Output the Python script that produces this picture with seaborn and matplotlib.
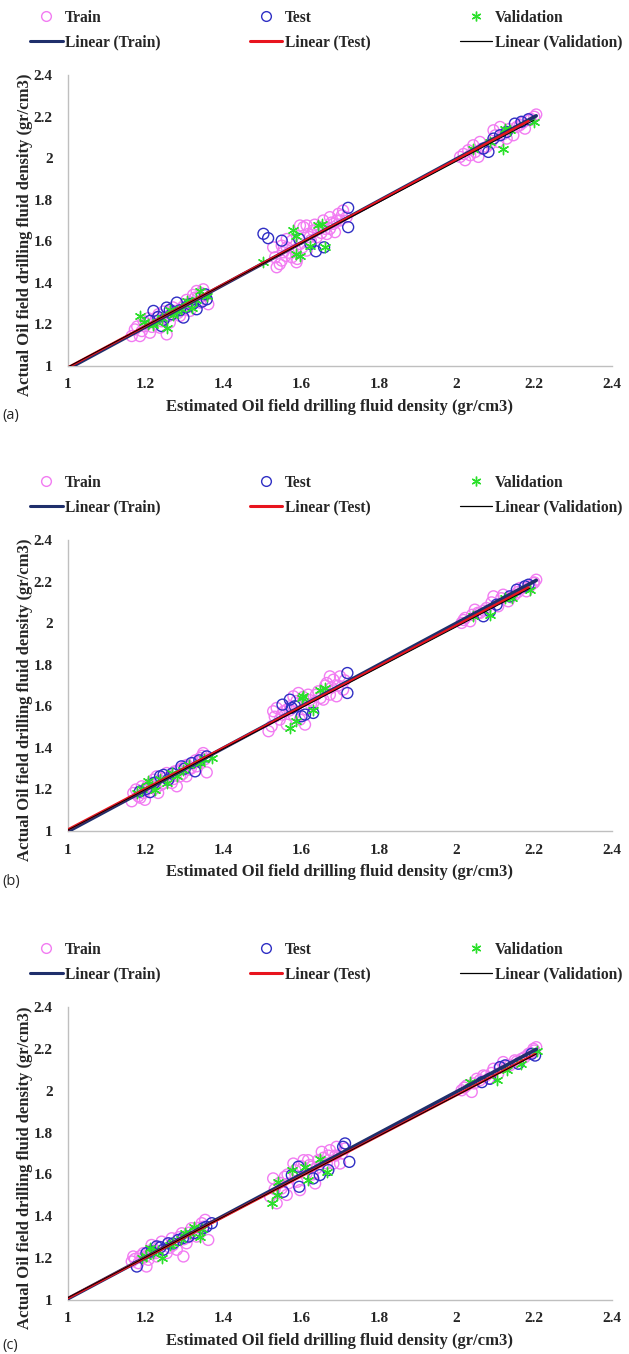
import numpy as np
import pandas as pd
import matplotlib
matplotlib.use("Agg")
import matplotlib.pyplot as plt
from matplotlib.lines import Line2D
import seaborn as sns

# ---------------- data ----------------
# Panel (a)
a_train_x = [1.164, 1.172, 1.185, 1.198, 1.211, 1.224, 1.237, 1.250, 1.262, 1.275, 1.288, 1.301,
             1.314, 1.327, 1.340, 1.348, 1.361, 1.194, 1.233, 1.293, 1.254, 1.331,
             1.178, 1.190, 1.203, 1.216, 1.228, 1.241, 1.246, 1.258, 1.270, 1.283, 1.296, 1.305,
             1.318, 1.322, 1.335, 1.344, 1.352, 1.206, 1.268, 1.310,
             1.528, 1.533, 1.537, 1.550, 1.554, 1.563, 1.576, 1.588, 1.597, 1.606, 1.614, 1.618,
             1.631, 1.640, 1.648, 1.657, 1.666, 1.674, 1.683, 1.687, 1.696, 1.700, 1.708, 1.717,
             1.597, 1.576, 1.550, 1.614, 1.563, 1.674,
             1.545, 1.568, 1.585, 1.603, 1.622, 1.635, 1.652, 1.662, 1.678, 1.692, 1.705, 1.625,
             1.590, 1.560,
             2.009, 2.022, 2.030, 2.043, 2.056, 2.060, 2.095, 2.107, 2.112, 2.146, 2.163, 2.176,
             2.189, 2.205, 2.200, 2.077, 2.035, 2.129,
             2.018, 2.048, 2.065, 2.088, 2.100, 2.120, 2.135, 2.155, 2.170, 2.190]
a_train_y = [1.144, 1.176, 1.144, 1.192, 1.160, 1.217, 1.184, 1.233, 1.209, 1.265, 1.241, 1.297,
             1.265, 1.329, 1.305, 1.369, 1.297, 1.217, 1.249, 1.281, 1.152, 1.361,
             1.190, 1.168, 1.205, 1.188, 1.232, 1.215, 1.262, 1.240, 1.282, 1.255, 1.270, 1.318,
             1.300, 1.342, 1.330, 1.350, 1.338, 1.230, 1.262, 1.284,
             1.571, 1.523, 1.475, 1.507, 1.547, 1.571, 1.523, 1.499, 1.587, 1.668, 1.676, 1.635,
             1.652, 1.619, 1.668, 1.700, 1.635, 1.716, 1.684, 1.644, 1.732, 1.700, 1.748, 1.716,
             1.676, 1.603, 1.579, 1.555, 1.611, 1.660,
             1.490, 1.545, 1.560, 1.570, 1.620, 1.680, 1.640, 1.660, 1.690, 1.700, 1.725, 1.605,
             1.515, 1.530,
             2.006, 1.990, 2.038, 2.062, 2.006, 2.078, 2.134, 2.078, 2.150, 2.110, 2.159, 2.142,
             2.183, 2.210, 2.199, 2.054, 2.014, 2.094,
             2.020, 2.030, 2.045, 2.070, 2.110, 2.115, 2.140, 2.150, 2.170, 2.190]
a_test_x = [1.220, 1.241, 1.254, 1.280, 1.297, 1.314, 1.331, 1.357, 1.353, 1.211, 1.267,
            1.232, 1.262, 1.288, 1.322, 1.345, 1.246, 1.305,
            1.503, 1.515, 1.550, 1.595, 1.624, 1.638, 1.659, 1.721, 1.721,
            2.069, 2.082, 2.095, 2.129, 2.150, 2.167, 2.185, 2.112]
a_test_y = [1.265, 1.192, 1.281, 1.305, 1.233, 1.297, 1.273, 1.321, 1.345, 1.217, 1.249,
            1.236, 1.270, 1.268, 1.300, 1.310, 1.222, 1.284,
            1.636, 1.615, 1.603, 1.611, 1.587, 1.552, 1.571, 1.761, 1.668,
            2.046, 2.030, 2.094, 2.126, 2.166, 2.175, 2.187, 2.110]
a_val_x = [1.185, 1.207, 1.254, 1.280, 1.305, 1.340, 1.357, 1.241, 1.318,
           1.196, 1.228, 1.270, 1.292, 1.330, 1.218, 1.262,
           1.503, 1.580, 1.588, 1.597, 1.623, 1.644, 1.653, 1.661, 1.588,
           2.120, 2.125, 2.137, 2.198, 2.043, 2.086]
a_val_y = [1.241, 1.200, 1.184, 1.265, 1.313, 1.361, 1.337, 1.233, 1.281,
           1.214, 1.214, 1.244, 1.276, 1.318, 1.196, 1.270,
           1.499, 1.652, 1.539, 1.531, 1.579, 1.676, 1.684, 1.571, 1.627,
           2.046, 2.142, 2.134, 2.175, 2.046, 2.078]

# Panel (b)
b_train_x = [1.164, 1.168, 1.181, 1.190, 1.198, 1.211, 1.220, 1.232, 1.245, 1.254, 1.267, 1.275,
             1.288, 1.301, 1.310, 1.323, 1.331, 1.340, 1.348, 1.357, 1.280, 1.228, 1.194, 1.305,
             1.175, 1.186, 1.200, 1.214, 1.226, 1.238, 1.250, 1.262, 1.272, 1.284, 1.295, 1.306,
             1.316, 1.328, 1.338, 1.345, 1.352, 1.240, 1.292, 1.204,
             1.516, 1.524, 1.528, 1.537, 1.545, 1.550, 1.563, 1.580, 1.593, 1.597, 1.610, 1.618,
             1.631, 1.644, 1.657, 1.666, 1.674, 1.683, 1.691, 1.700, 1.708, 1.563, 1.614, 1.674, 1.580,
             1.532, 1.555, 1.572, 1.588, 1.605, 1.622, 1.638, 1.650, 1.662, 1.678, 1.695, 1.712,
             1.570, 1.625,
             2.013, 2.022, 2.035, 2.047, 2.060, 2.077, 2.095, 2.107, 2.120, 2.133, 2.150, 2.163,
             2.180, 2.198, 2.205, 2.200,
             2.018, 2.040, 2.055, 2.070, 2.090, 2.115, 2.140, 2.158, 2.172, 2.190]
b_train_y = [1.143, 1.183, 1.167, 1.215, 1.150, 1.215, 1.247, 1.183, 1.231, 1.279, 1.231, 1.287,
             1.263, 1.311, 1.295, 1.327, 1.311, 1.351, 1.375, 1.282, 1.215, 1.263, 1.183, 1.263,
             1.200, 1.160, 1.196, 1.230, 1.205, 1.240, 1.255, 1.262, 1.250, 1.290, 1.275, 1.318,
             1.300, 1.340, 1.332, 1.362, 1.345, 1.222, 1.300, 1.215,
             1.480, 1.504, 1.576, 1.592, 1.536, 1.560, 1.512, 1.648, 1.664, 1.536, 1.512, 1.656,
             1.616, 1.672, 1.632, 1.712, 1.656, 1.728, 1.648, 1.744, 1.680, 1.584, 1.584, 1.744, 1.560,
             1.550, 1.575, 1.600, 1.625, 1.645, 1.630, 1.655, 1.640, 1.700, 1.690, 1.700, 1.725,
             1.580, 1.610,
             2.001, 2.025, 2.009, 2.065, 2.049, 2.073, 2.129, 2.081, 2.137, 2.105, 2.137, 2.169,
             2.153, 2.193, 2.209, 2.196,
             2.015, 2.040, 2.050, 2.060, 2.100, 2.120, 2.125, 2.150, 2.170, 2.180]
b_test_x = [1.237, 1.211, 1.292, 1.318, 1.327, 1.357, 1.258, 1.202,
            1.222, 1.246, 1.268, 1.300, 1.338, 1.185,
            1.552, 1.571, 1.576, 1.584, 1.601, 1.610, 1.631, 1.719, 1.719,
            2.069, 2.086, 2.103, 2.137, 2.155, 2.176, 2.185]
b_test_y = [1.263, 1.187, 1.311, 1.327, 1.287, 1.359, 1.247, 1.203,
            1.232, 1.270, 1.276, 1.300, 1.340, 1.190,
            1.608, 1.632, 1.592, 1.600, 1.552, 1.560, 1.568, 1.760, 1.664,
            2.033, 2.057, 2.089, 2.129, 2.161, 2.177, 2.185]
b_val_x = [1.177, 1.207, 1.224, 1.280, 1.297, 1.370, 1.340, 1.254,
           1.190, 1.236, 1.268, 1.312, 1.350, 1.215,
           1.571, 1.588, 1.601, 1.606, 1.631, 1.648, 1.661,
           2.043, 2.086, 2.125, 2.142, 2.189]
b_val_y = [1.183, 1.239, 1.199, 1.263, 1.295, 1.351, 1.327, 1.231,
           1.200, 1.250, 1.280, 1.316, 1.345, 1.215,
           1.496, 1.528, 1.640, 1.648, 1.584, 1.680, 1.688,
           2.033, 2.041, 2.121, 2.121, 2.161]

# Panel (c)
c_train_x = [1.164, 1.168, 1.181, 1.194, 1.207, 1.215, 1.228, 1.241, 1.254, 1.267, 1.280, 1.293,
             1.305, 1.318, 1.331, 1.344, 1.353, 1.361, 1.297, 1.202,
             1.172, 1.186, 1.198, 1.210, 1.222, 1.234, 1.246, 1.258, 1.270, 1.285, 1.298, 1.312,
             1.324, 1.336, 1.348, 1.226, 1.262, 1.310, 1.190, 1.340,
             1.520, 1.528, 1.537, 1.550, 1.558, 1.567, 1.580, 1.597, 1.606, 1.614, 1.627, 1.636,
             1.644, 1.653, 1.666, 1.674, 1.683, 1.691, 1.700, 1.713, 1.563, 1.618,
             1.532, 1.545, 1.565, 1.585, 1.600, 1.622, 1.640, 1.658, 1.670, 1.688, 1.705, 1.590, 1.630,
             2.013, 2.026, 2.039, 2.052, 2.069, 2.082, 2.095, 2.107, 2.120, 2.137, 2.150, 2.167,
             2.185, 2.198, 2.205, 2.200,
             2.020, 2.045, 2.060, 2.075, 2.090, 2.110, 2.130, 2.155, 2.175, 2.190]
c_train_y = [1.184, 1.208, 1.176, 1.224, 1.192, 1.263, 1.208, 1.279, 1.224, 1.295, 1.240, 1.319,
             1.271, 1.343, 1.303, 1.367, 1.383, 1.287, 1.208, 1.160,
             1.196, 1.210, 1.205, 1.236, 1.230, 1.255, 1.240, 1.270, 1.262, 1.300, 1.290, 1.322,
             1.318, 1.345, 1.350, 1.224, 1.250, 1.300, 1.200, 1.330,
             1.494, 1.581, 1.462, 1.533, 1.589, 1.557, 1.652, 1.525, 1.668, 1.605, 1.637, 1.557,
             1.668, 1.708, 1.652, 1.716, 1.652, 1.732, 1.652, 1.724, 1.502, 1.668,
             1.530, 1.560, 1.600, 1.620, 1.640, 1.645, 1.630, 1.680, 1.690, 1.690, 1.700, 1.565, 1.600,
             2.002, 2.025, 1.994, 2.057, 2.073, 2.057, 2.105, 2.081, 2.137, 2.121, 2.145, 2.152,
             2.176, 2.200, 2.208, 2.192,
             2.015, 2.035, 2.050, 2.070, 2.085, 2.110, 2.120, 2.140, 2.160, 2.180]
c_test_x = [1.177, 1.202, 1.228, 1.245, 1.284, 1.310, 1.348, 1.370, 1.258,
            1.215, 1.238, 1.270, 1.296, 1.325, 1.356,
            1.554, 1.576, 1.593, 1.595, 1.631, 1.648, 1.670, 1.713, 1.708, 1.724,
            2.065, 2.086, 2.112, 2.125, 2.159, 2.193, 2.202]
c_test_y = [1.160, 1.224, 1.256, 1.240, 1.287, 1.303, 1.343, 1.367, 1.271,
            1.232, 1.252, 1.270, 1.296, 1.320, 1.350,
            1.517, 1.597, 1.637, 1.541, 1.581, 1.597, 1.621, 1.748, 1.732, 1.660,
            2.041, 2.057, 2.113, 2.121, 2.129, 2.176, 2.168]
c_val_x = [1.190, 1.220, 1.241, 1.271, 1.301, 1.323, 1.340, 1.211,
           1.200, 1.232, 1.262, 1.290, 1.315, 1.345,
           1.524, 1.537, 1.541, 1.576, 1.610, 1.618, 1.648, 1.666,
           2.035, 2.103, 2.129, 2.167, 2.206]
c_val_y = [1.200, 1.224, 1.200, 1.271, 1.319, 1.351, 1.303, 1.248,
           1.212, 1.236, 1.262, 1.290, 1.318, 1.340,
           1.462, 1.502, 1.565, 1.621, 1.637, 1.573, 1.676, 1.613,
           2.041, 2.049, 2.097, 2.129, 2.192]

ticks = [1, 1.2, 1.4, 1.6, 1.8, 2, 2.2, 2.4]
tick_labels = ["1", "1.2", "1.4", "1.6", "1.8", "2", "2.2", "2.4"]
panel_tags = ["(a)", "(b)", "(c)"]
x_title = "Estimated Oil field drilling fluid density (gr/cm3)"
y_title = "Actual Oil field drilling fluid density (gr/cm3)"
series_names = ["Train", "Test", "Validation"]
line_names = ["Linear (Train)", "Linear (Test)", "Linear (Validation)"]

panels = [
    (a_train_x, a_train_y, a_test_x, a_test_y, a_val_x, a_val_y),
    (b_train_x, b_train_y, b_test_x, b_test_y, b_val_x, b_val_y),
    (c_train_x, c_train_y, c_test_x, c_test_y, c_val_x, c_val_y),
]

# ---------------- style ----------------
sns.set_theme(style="white")
plt.rcParams["font.family"] = ["Liberation Serif", "DejaVu Serif"]
plt.rcParams["font.weight"] = "bold"

PINK = "#F27CF2"
BLUE = "#2F2FC4"
GREEN = "#2BE02B"
NAVY = "#1F2F6B"
RED = "#E8141E"
BLACK = "#000000"
SPINE = "#BFBFBF"
TICK_FS = 11
LAB_FS = 12
LEG_FS = 11.2
STAR = (6, 2, 0)

W, H = 629, 1354
fig = plt.figure(figsize=(W / 100, H / 100), dpi=100)

# axes pixel layouts: (top, bottom) of y-range and legend top
layouts = [(75, 366, 11), (540, 831, 476), (1007, 1300, 943)]
left_px, right_px = 68, 612

for i, (pan, (top, bot, legtop)) in enumerate(zip(panels, layouts)):
    trx, tr_y, tex, tey, vx, vy = pan
    ax = fig.add_axes([left_px / W, 1 - bot / H, (right_px - left_px) / W, (bot - top) / H])

    # fitted trend lines from each set
    for xs, ys, col, lw in [(trx, tr_y, NAVY, 2.6), (tex, tey, RED, 1.8), (vx, vy, BLACK, 0.7)]:
        k, b = np.polyfit(xs, ys, 1)
        xx = np.array([1.0, max(xs)])
        df_line = pd.DataFrame({"x": xx, "y": k * xx + b})
        sns.lineplot(data=df_line, x="x", y="y", color=col, lw=lw, ax=ax, zorder=5)

    df_tr = pd.DataFrame({"x": trx, "y": tr_y})
    df_te = pd.DataFrame({"x": tex, "y": tey})
    df_v = pd.DataFrame({"x": vx, "y": vy})
    sns.scatterplot(data=df_tr, x="x", y="y", marker="o", s=62, color=PINK,
                    facecolor="none", edgecolor=PINK, linewidth=1.0, ax=ax, zorder=2)
    sns.scatterplot(data=df_te, x="x", y="y", marker="o", s=62, color=BLUE,
                    facecolor="none", edgecolor=BLUE, linewidth=1.0, ax=ax, zorder=3)
    sns.scatterplot(data=df_v, x="x", y="y", marker=STAR, s=55, color=GREEN,
                    edgecolor=GREEN, linewidth=1.0, ax=ax, zorder=4)

    ax.set_xlim(1, 2.4)
    ax.set_ylim(1, 2.4)
    ax.set_xticks(ticks)
    ax.set_yticks(ticks)
    ax.set_xticklabels(tick_labels, fontsize=TICK_FS, fontweight="bold")
    ax.set_yticklabels(tick_labels, fontsize=TICK_FS, fontweight="bold")
    ax.tick_params(axis="both", length=0)
    ax.tick_params(axis="x", pad=9)
    ax.tick_params(axis="y", pad=11)
    for s in ["top", "right"]:
        ax.spines[s].set_visible(False)
    for s in ["left", "bottom"]:
        ax.spines[s].set_color(SPINE)
        ax.spines[s].set_linewidth(1.0)
    ax.grid(False)
    ax.set_xlabel(x_title, fontsize=LAB_FS, fontweight="bold")
    ax.set_ylabel(y_title, fontsize=LAB_FS, fontweight="bold")
    ax.xaxis.set_label_coords(0.5, -(33 / (bot - top)))
    ax.yaxis.set_label_coords(-(35 / (right_px - left_px)), 0.45)

    tag_y = min(bot + 50, H - 9)
    fig.text(2 / W, 1 - tag_y / H, panel_tags[i], fontsize=10.5,
             family=["Open Sans", "DejaVu Sans"], fontweight="normal", ha="left", va="center")

    # legend (3 columns x 2 rows)
    handles = [
        Line2D([], [], ls="none", marker="o", ms=7, mfc="none", mec=PINK, mew=1.0),
        Line2D([], [], color=NAVY, lw=2.2),
        Line2D([], [], ls="none", marker="o", ms=7, mfc="none", mec=BLUE, mew=1.0),
        Line2D([], [], color=RED, lw=2.2),
        Line2D([], [], ls="none", marker=STAR, ms=7, mec=GREEN, mew=1.0),
        Line2D([], [], color=BLACK, lw=0.9),
    ]
    labels = [series_names[0], line_names[0], series_names[1], line_names[1],
              series_names[2], line_names[2]]
    fig.legend(handles, labels, ncol=3, loc="upper left",
               bbox_to_anchor=(30 / W, 1 - legtop / H, 592 / W, 0.001), mode="expand",
               frameon=False, prop={"weight": "bold", "size": LEG_FS},
               handlelength=2.1, handletextpad=0.15, labelspacing=0.55,
               borderpad=0, borderaxespad=0, columnspacing=1.0)

fig.savefig("out.png", dpi=100)
